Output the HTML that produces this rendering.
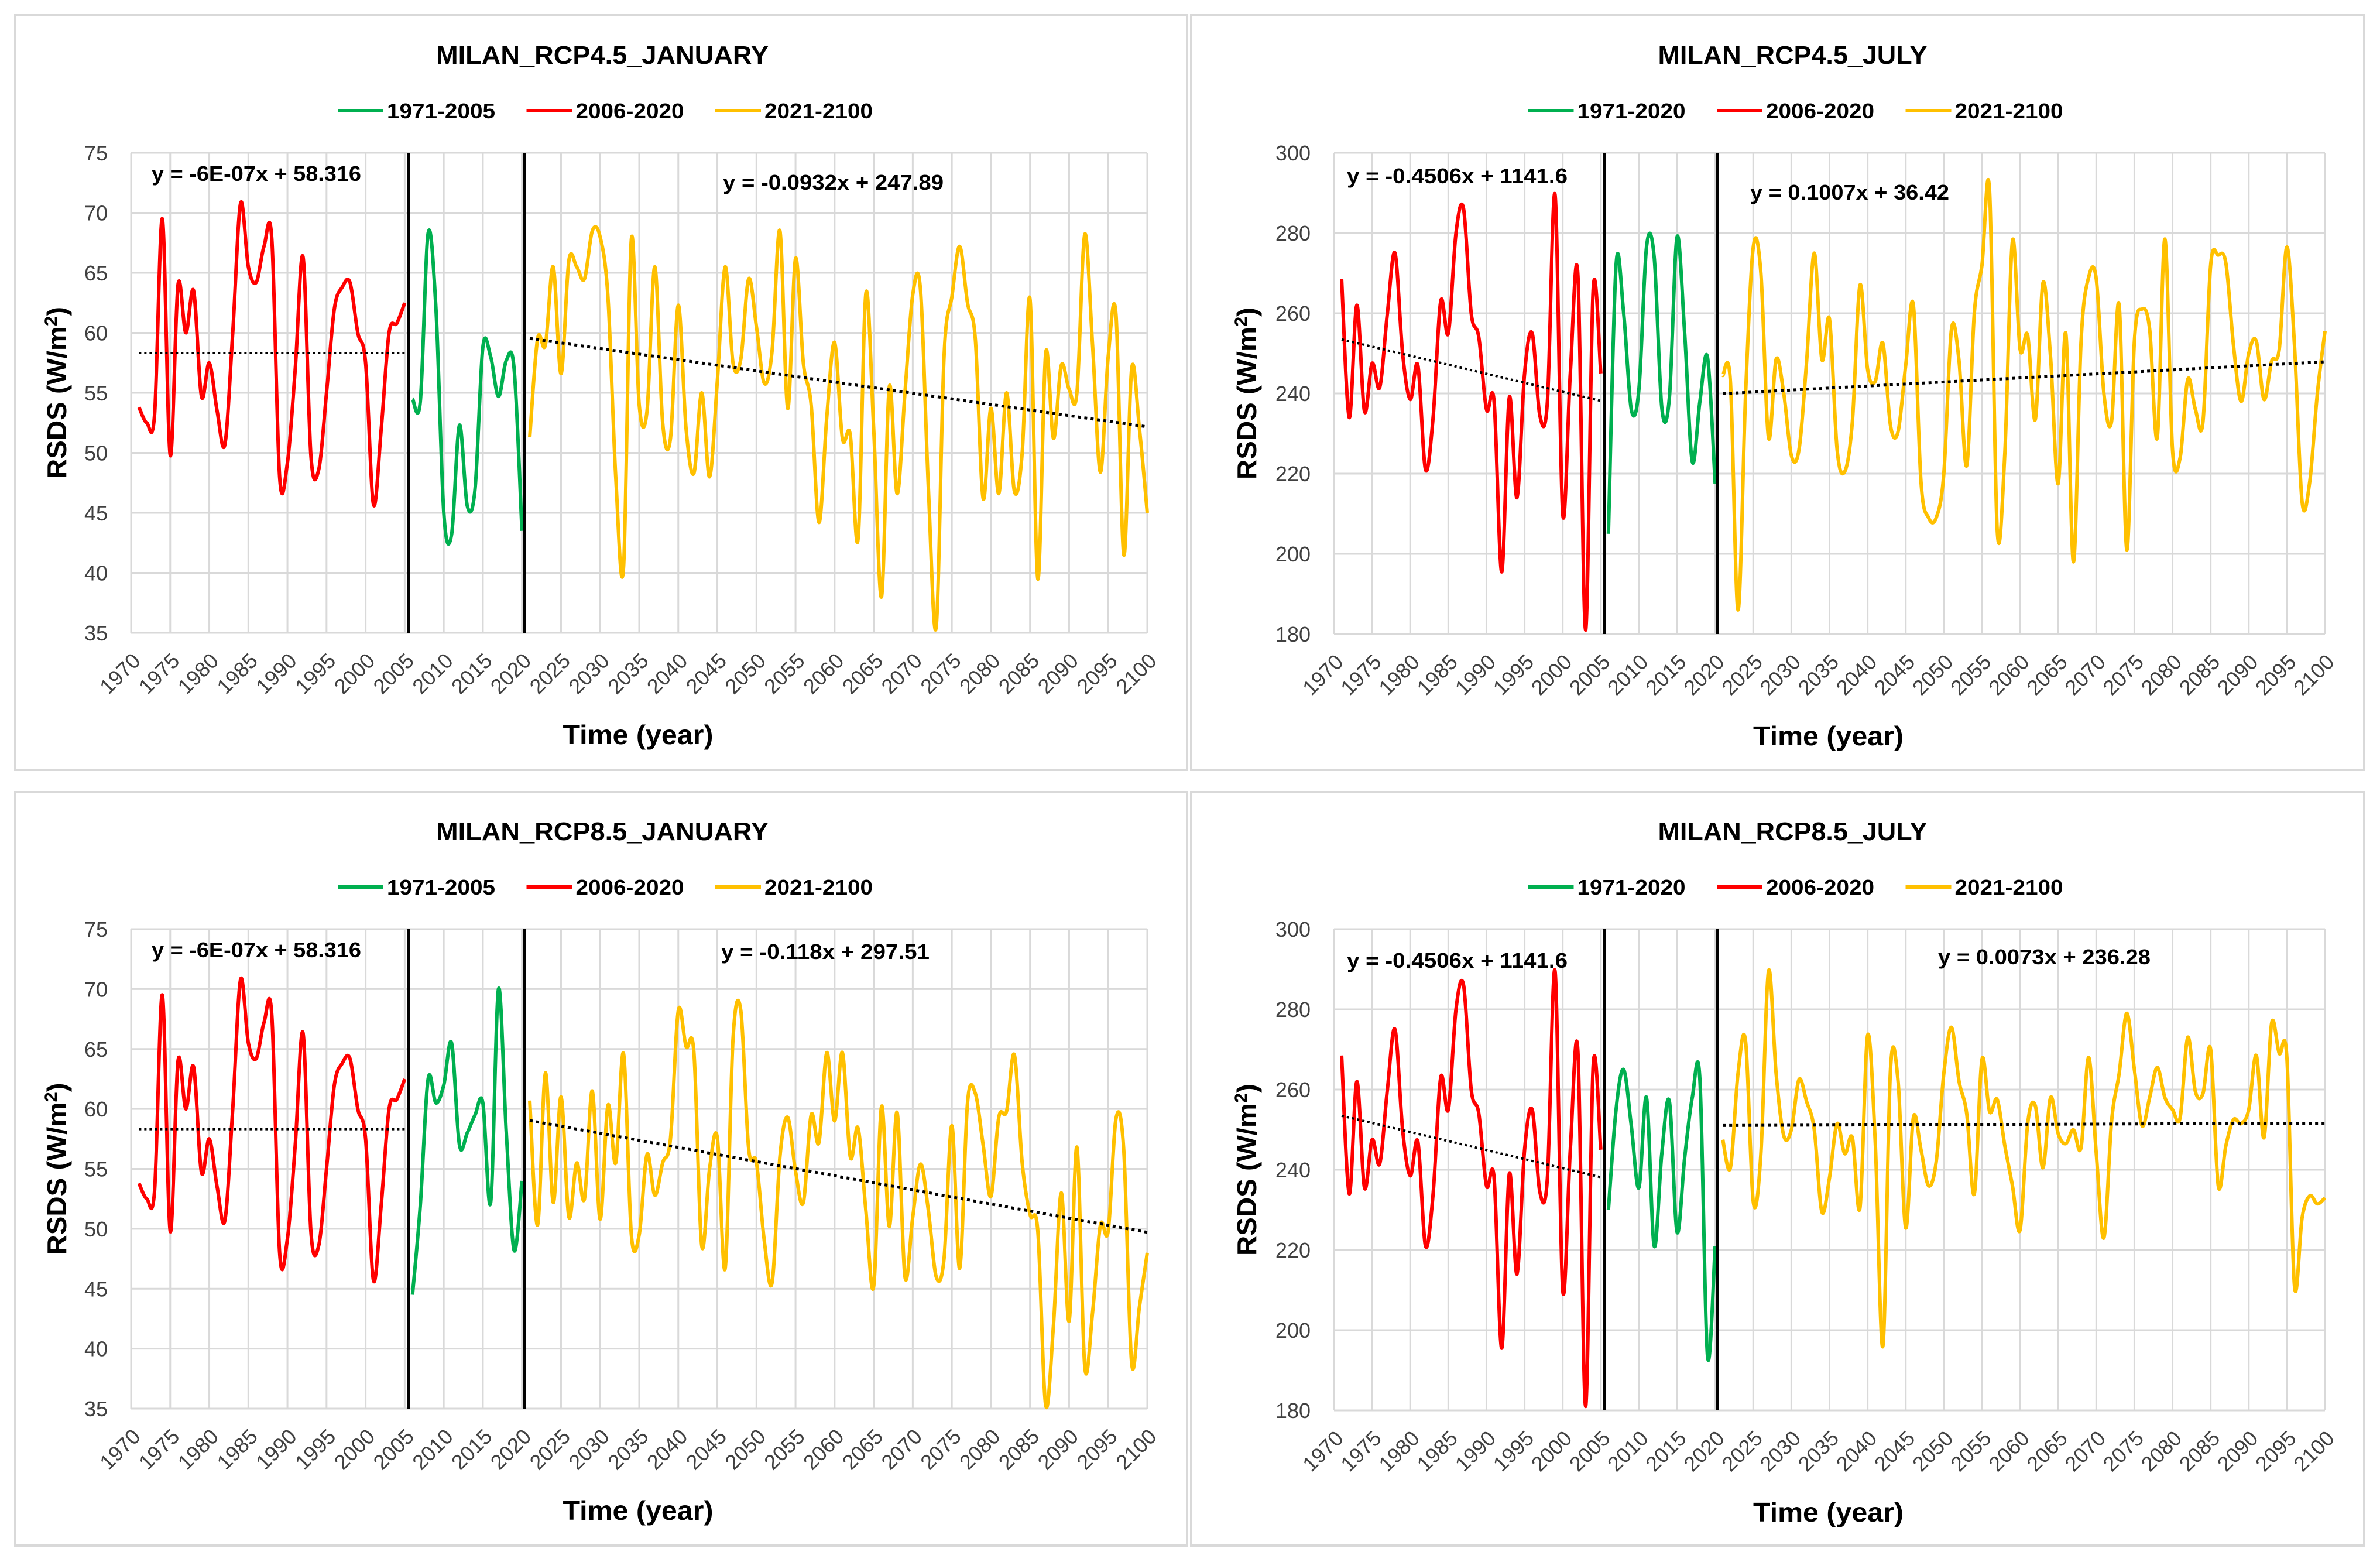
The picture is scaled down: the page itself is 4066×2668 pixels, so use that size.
<!DOCTYPE html>
<html><head><meta charset="utf-8"><title>Milan RSDS</title>
<style>html,body{margin:0;padding:0;background:#fff}svg{display:block}text{font-family:"Liberation Sans",sans-serif}</style>
</head><body>
<svg id="chart" xmlns="http://www.w3.org/2000/svg" width="4066" height="2668" viewBox="0 0 4066 2668">
<rect x="0" y="0" width="4066" height="2668" fill="#fff"/>
</svg>
<script>
// ---- data (annual values) ----
const janHist = [53.8,52.5,53.2,69.5,49.8,64,60,63.5,54.7,57.5,53.5,50.7,60,70.8,65.5,64.2,67.2,67.8,48,49.2,57,66.3,49.8,48.6,55,62,63.8,64.2,60,57.5,45.7,52,60,60.8,62.5];
const jan45Mid = [54.5,54.3,68.3,62,45,43.2,52.3,45.6,47,58.8,58,54.7,57.7,57,43.5];
const jan45Fut = [51.3,59.5,59,65.5,56.6,66,65.5,64.5,68.5,68,63,48,40.5,67.8,54,53.5,65.5,52.5,51.2,62.3,52,48.3,55,48,56,65.5,57.5,57.8,64.5,60.5,55.8,58.5,68.5,53.7,66.2,57.5,54,44.2,53,59.2,51.2,51.5,42.8,63.3,52,38,55.5,46.6,55,63.2,63.5,47,35.5,58,63,67.2,62.5,59.5,46.2,53.7,46.6,55,46.8,50,62.8,39.5,58.3,51.2,57.3,55.3,55,68.2,59,48.4,58,61.5,41.5,57,52,45];
const jan85Mid = [44.5,52,62.5,60.5,62,65.5,57,58,59.5,60.5,52.2,70,58,48.2,54];
const jan85Fut = [60.7,50.3,63,52.2,61,51,55.5,52.5,61.5,50.8,60.3,55.5,64.6,49.5,49.5,56.2,52.8,55.5,57.5,68.2,65.2,64.7,48.6,55,57.6,46.7,65.8,68.2,56.7,55.5,49,45.5,56,59.3,54.8,52.2,59.5,57.2,64.7,59,64.7,56,58.4,51.5,45.2,60.2,50.2,59.7,46,51,55.4,51.5,46,47.5,58.6,46.7,60.5,61.3,57,52.7,59.3,59.8,64.5,55.5,51.2,49.8,35.3,42,53,42.3,56.8,38.5,43,50.3,49.8,59.2,56.5,38.8,43.5,48];
const julHist = [268.5,234,262,235.5,247.5,241.5,260,275,250,238.5,247,221,234,263,255,280,286,260,254,236,238,195.5,239,214,245,255,234.5,238,289.5,210,245,269.5,181,266,245];
const jul45Mid = [205,272,260,236,241,276.5,274,236.5,239,279,255,223,238,249,217.5];
const jul45Fut = [244.5,243,186,240,276.5,270,229,248.5,240,224.5,226,248,275,248.5,258.5,226,220.5,233,267,246,243,252.5,232,230.5,247,262,218,209,209,220,256,248,222,260,272,290.5,206,225,278,251,254.5,233.5,267.5,249,217.5,255,198,253,269,268.5,240,233,262,201,253,261,256,229,278.5,226,224,243.5,236,233,272,274.5,272.5,252,238,250,253,238.5,248,251,276.5,252,213,218,240,255.5];
const jul85Mid = [230,255,265,251,235.5,258,221,244,257,224.5,243,258,262.5,193.5,221];
const jul85Fut = [247.5,240.5,264,272,232,244,289.5,264,248.5,250,262.5,257,250,229.5,238,251.5,244,248,230.5,273.5,247,196,265,262,225.5,253,245,236,242,264,275.5,262,254,234,267.5,254.5,257.5,246,236,225,251.5,256,240.5,258,249,246.5,250,245.5,268,244,223,252,264,279,265,251,258,265.5,258,255,253,273,259.5,259,270,236,246,252.5,251.5,255,268.5,248,276.5,269,268,211,228,233.5,231.5,233];
// trend coefficients [slope, intercept] in year units
const janHistTrend = [-6e-7, 58.316];
const jan45Trend = [-0.0932, 247.89];
const jan85Trend = [-0.118, 297.51];
const julHistTrend = [-0.4506, 1141.6];
const jul45Trend = [0.1007, 36.42];
const jul85Trend = [0.0073, 236.28];
const xTicks = [1970,1975,1980,1985,1990,1995,2000,2005,2010,2015,2020,2025,2030,2035,2040,2045,2050,2055,2060,2065,2070,2075,2080,2085,2090,2095,2100];
const janYTicks = [35,40,45,50,55,60,65,70,75];
const julYTicks = [180,200,220,240,260,280,300];
const janLegend = ['1971-2005','2006-2020','2021-2100'];
const julLegend = ['1971-2020','2006-2020','2021-2100'];

const NS='http://www.w3.org/2000/svg';
const svg=document.getElementById('chart');
function mk(tag, attrs, parent){const e=document.createElementNS(NS,tag);for(const k in attrs)e.setAttribute(k,attrs[k]);(parent||svg).appendChild(e);return e;}

const RED='#ff0000', GREEN='#00b050', YEL='#ffc000';

const panels=[
 {bx:26,by:26,bw:2002,bh:1289,px0:224,px1:1960,py0:261,py1:1081,yt:janYTicks,title:'MILAN_RCP4.5_JANUARY',tw:568,leg:janLegend,
  hist:janHist,mid:jan45Mid,fut:jan45Fut,th:janHistTrend,tf:jan45Trend,e1:'y = -6E-07x + 58.316',e1x:259,e1y:296,e1w:358,e2:'y = -0.0932x + 247.89',e2x:1235,e2y:311,e2w:377,rsx:97},
 {bx:2035,by:26,bw:2004,bh:1289,px0:2279,px1:3972,py0:261,py1:1083,yt:julYTicks,title:'MILAN_RCP4.5_JULY',tw:460,leg:julLegend,
  hist:julHist,mid:jul45Mid,fut:jul45Fut,th:julHistTrend,tf:jul45Trend,e1:'y = -0.4506x + 1141.6',e1x:2301,e1y:300,e1w:377,e2:'y = 0.1007x + 36.42',e2x:2990,e2y:328,e2w:340,rsx:2130},
 {bx:26,by:1353,bw:2002,bh:1287,px0:224,px1:1960,py0:1587,py1:2406,yt:janYTicks,title:'MILAN_RCP8.5_JANUARY',tw:568,leg:janLegend,
  hist:janHist,mid:jan85Mid,fut:jan85Fut,th:janHistTrend,tf:jan85Trend,e1:'y = -6E-07x + 58.316',e1x:259,e1y:1622,e1w:358,e2:'y = -0.118x + 297.51',e2x:1232,e2y:1625,e2w:356,rsx:97},
 {bx:2035,by:1353,bw:2004,bh:1287,px0:2279,px1:3972,py0:1587,py1:2409,yt:julYTicks,title:'MILAN_RCP8.5_JULY',tw:460,leg:julLegend,
  hist:julHist,mid:jul85Mid,fut:jul85Fut,th:julHistTrend,tf:jul85Trend,e1:'y = -0.4506x + 1141.6',e1x:2301,e1y:1640,e1w:377,e2:'y = 0.0073x + 236.28',e2x:3311,e2y:1634,e2w:363,rsx:2130}
];

function smoothPath(pts){
  let d='M'+pts[0][0].toFixed(1)+','+pts[0][1].toFixed(1);
  for(let i=0;i<pts.length-1;i++){
    const p0=pts[Math.max(0,i-1)],p1=pts[i],p2=pts[i+1],p3=pts[Math.min(pts.length-1,i+2)];
    const c1x=p1[0]+(p2[0]-p0[0])/6,c1y=p1[1]+(p2[1]-p0[1])/6;
    const c2x=p2[0]-(p3[0]-p1[0])/6,c2y=p2[1]-(p3[1]-p1[1])/6;
    d+=' C'+c1x.toFixed(1)+','+c1y.toFixed(1)+' '+c2x.toFixed(1)+','+c2y.toFixed(1)+' '+p2[0].toFixed(1)+','+p2[1].toFixed(1);
  }
  return d;
}

panels.forEach(function(P){
  const g=mk('g',{});
  
  
  const ymin=P.yt[0], ymax=P.yt[P.yt.length-1];
  const X=function(yr){return P.px0+(yr-1970)/(2100-1970)*(P.px1-P.px0);};
  const Y=function(v){return P.py1-(v-ymin)/(ymax-ymin)*(P.py1-P.py0);};
  const cx=(P.px0+P.px1)/2;

  const frame=mk('rect',{x:P.bx,y:P.by,width:P.bw,height:P.bh,fill:'#fff',stroke:'#d9d9d9','stroke-width':4},g);
  
  

  // gridlines
  P.yt.forEach(function(t){
    const l=mk('line',{x1:P.px0,x2:P.px1,y1:Y(t),y2:Y(t),stroke:'#d9d9d9','stroke-width':3},g);
    
    
    const tx=mk('text',{x:P.px0-40,y:Y(t)+13,'text-anchor':'end','font-size':36,fill:'#404040'},g);
    tx.textContent=t;
    
    
  });
  xTicks.forEach(function(t){
    const l=mk('line',{x1:X(t),x2:X(t),y1:P.py0,y2:P.py1,stroke:'#d9d9d9','stroke-width':3},g);
    
    
    const tx=mk('text',{x:X(t)+18,y:P.py1+50,'text-anchor':'end','font-size':36,fill:'#404040',transform:'rotate(-45 '+(X(t)+18)+' '+(P.py1+50)+')'},g);
    tx.textContent=t;
    
    
  });

  // title & legend
  const ti=mk('text',{x:cx-63,y:P.py0-152,'text-anchor':'middle','font-size':44,'font-weight':'bold',fill:'#000',textLength:P.tw,lengthAdjust:'spacingAndGlyphs'},g);
  ti.textContent=P.title;
  
  
  const cols=[GREEN,RED,YEL];
  const lx0=cx-63-452;
  P.leg.forEach(function(lab,i){
    const x=lx0+i*322.5, y=P.py0-72;
    const ln=mk('line',{x1:x,x2:x+78,y1:y,y2:y,stroke:cols[i],'stroke-width':6},g);
    
    
    const tx=mk('text',{x:x+84,y:y+13,'font-size':36,'font-weight':'bold',fill:'#000',textLength:185,lengthAdjust:'spacingAndGlyphs'},g);
    tx.textContent=lab;
    
    
  });

  // axis titles
  const xt=mk('text',{x:cx-2,y:P.py1+190,'text-anchor':'middle','font-size':46,'font-weight':'bold',fill:'#000',textLength:257,lengthAdjust:'spacingAndGlyphs'},g);
  xt.textContent='Time (year)';
  
  
  const ym=(P.py0+P.py1)/2;
  const yt=mk('text',{x:P.rsx+16,y:ym,'text-anchor':'middle','font-size':46,'font-weight':'bold',fill:'#000',textLength:294,lengthAdjust:'spacingAndGlyphs',transform:'rotate(-90 '+(P.rsx+16)+' '+ym+')'},g);
  yt.innerHTML='RSDS (W/m<tspan dy="-16" font-size="30">2</tspan><tspan dy="16">)</tspan>';
  
  

  // series
  function series(vals,start,color,name){
    const pts=vals.map(function(v,i){return [X(start+i),Y(v)];});
    const p=mk('path',{d:smoothPath(pts),fill:'none',stroke:color,'stroke-width':6,'stroke-linejoin':'round'},g);
    return p;
  }
  const s1=series(P.hist,1971,RED);
  
  
  const s2=series(P.mid,2006,GREEN);
  
  
  const s3=series(P.fut,2021,YEL);
  
  

  // trend lines
  const t1=mk('line',{x1:X(1971),x2:X(2005),y1:Y(P.th[0]*1971+P.th[1]),y2:Y(P.th[0]*2005+P.th[1]),stroke:'#000','stroke-width':4,'stroke-dasharray':'4 5'},g);
  
  
  const t2=mk('line',{x1:X(2021),x2:X(2100),y1:Y(P.tf[0]*2021+P.tf[1]),y2:Y(P.tf[0]*2100+P.tf[1]),stroke:'#000','stroke-width':5,'stroke-dasharray':'5 6'},g);
  
  

  // separators
  const v1=mk('line',{x1:X(2005.5),x2:X(2005.5),y1:P.py0,y2:P.py1,stroke:'#000','stroke-width':5},g);
  
  
  const v2=mk('line',{x1:X(2020.3),x2:X(2020.3),y1:P.py0,y2:P.py1,stroke:'#000','stroke-width':5},g);
  
  

  // equations
  const q1=mk('text',{x:P.e1x,y:P.e1y+13,'font-size':36,'font-weight':'bold',fill:'#000',textLength:P.e1w,lengthAdjust:'spacingAndGlyphs'},g);
  q1.textContent=P.e1;
  
  
  const q2=mk('text',{x:P.e2x,y:P.e2y+13,'font-size':36,'font-weight':'bold',fill:'#000',textLength:P.e2w,lengthAdjust:'spacingAndGlyphs'},g);
  q2.textContent=P.e2;
  
  
});
</script>
</body></html>
